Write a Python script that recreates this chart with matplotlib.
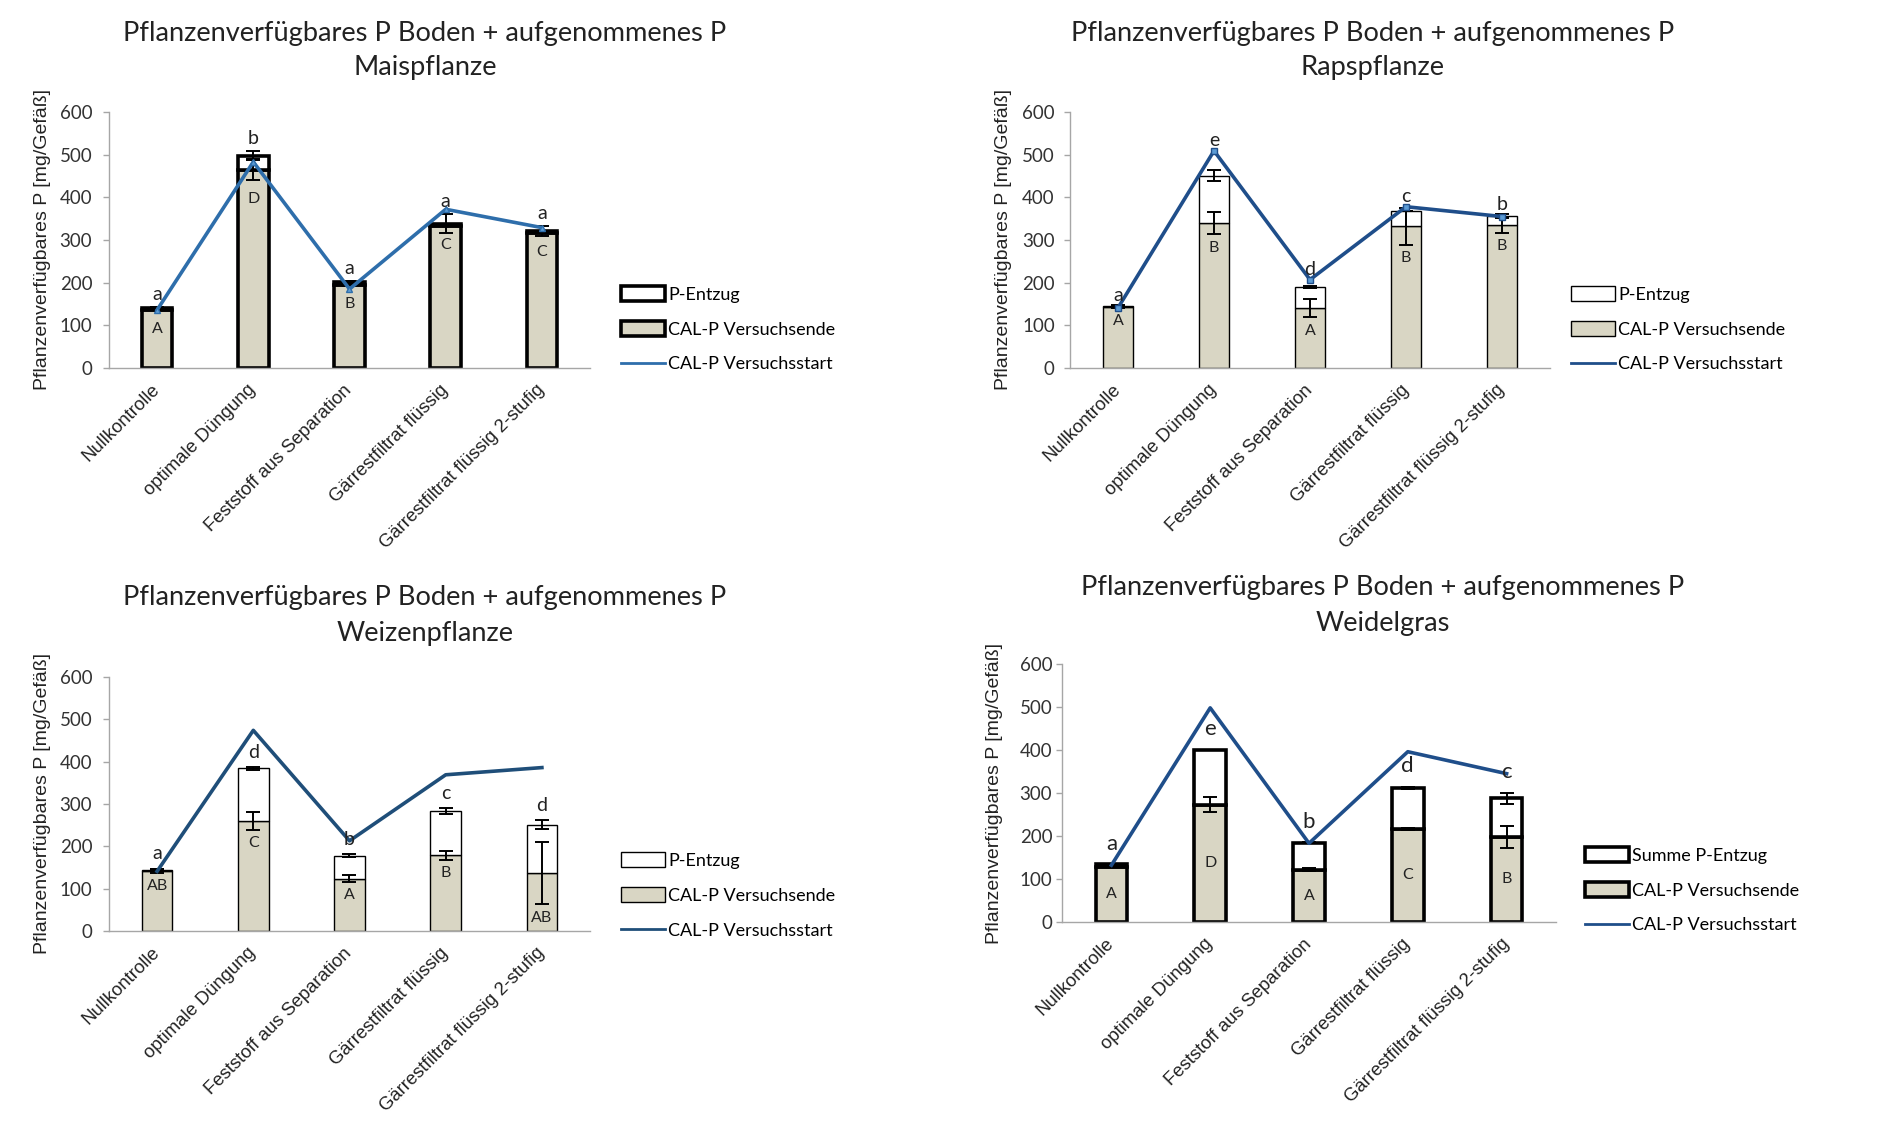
import matplotlib
matplotlib.use("Agg")
import matplotlib.pyplot as plt
from matplotlib.patches import Patch
from matplotlib.lines import Line2D
import numpy as np

categories = ["Nullkontrolle", "optimale Düngung", "Feststoff aus Separation",
              "Gärrestfiltrat flüssig", "Gärrestfiltrat flüssig 2-stufig"]
title_main = "Pflanzenverfügbares P Boden + aufgenommenes P"
ylabel = "Pflanzenverfügbares P [mg/Gefäß]"
yticks = [0, 100, 200, 300, 400, 500, 600]

# Maispflanze
mais_cal = [137, 465, 195, 332, 316]
mais_total = [141, 498, 201, 338, 321]
mais_err_total = [2, 11, 3, 22, 12]
mais_err_cal = [2, 25, 3, 0, 0]
mais_start = [136, 483, 185, 372, 329]
mais_low = ["a", "b", "a", "a", "a"]
mais_up = ["A", "D", "B", "C", "C"]

# Rapspflanze
raps_cal = [143, 339, 140, 332, 335]
raps_total = [145, 451, 190, 367, 356]
raps_err_total = [2, 12, 3, 0, 4]
raps_err_cal = [2, 26, 21, 43, 18]
raps_start = [141, 509, 207, 378, 355]
raps_low = ["a", "e", "d", "c", "b"]
raps_up = ["A", "B", "A", "B", "B"]

# Weizenpflanze
weiz_cal = [142, 260, 124, 179, 137]
weiz_total = [145, 384, 178, 283, 251]
weiz_err_total = [2, 3, 4, 7, 11]
weiz_err_cal = [4, 21, 8, 11, 74]
weiz_start = [141, 474, 213, 369, 386]
weiz_low = ["a", "d", "b", "c", "d"]
weiz_up = ["AB", "C", "A", "B", "AB"]

# Weidelgras
weid_cal = [129, 273, 122, 217, 198]
weid_total = [134, 400, 184, 312, 288]
weid_err_total = [0, 1, 1, 3, 13]
weid_err_cal = [0, 17, 3, 2, 25]
weid_start = [132, 498, 183, 396, 345]
weid_low = ["a", "e", "b", "d", "c"]
weid_up = ["A", "D", "A", "C", "B"]

W, H = 1890, 1130
fig = plt.figure(figsize=(W / 100, H / 100), dpi=100)
fig.patch.set_facecolor("white")

BEIGE = "#d9d6c4"
TFONT = "Lato"
XFONT = "Liberation Sans"

panels = [
    dict(sub="Maispflanze", cal=mais_cal, total=mais_total, et=mais_err_total, ec=mais_err_cal,
         start=mais_start, low=mais_low, up=mais_up, ax=(109, 590, 112, 368),
         title=(425, 33, 68), legend=(614, 279), lw=2.6, color="#2e6eab", marker="^",
         entz="P-Entzug", off_low=30, off_up=43, center_up=False, lowsize=14,
         use_line=False, ypad=8),
    dict(sub="Rapspflanze", cal=raps_cal, total=raps_total, et=raps_err_total, ec=raps_err_cal,
         start=raps_start, low=raps_low, up=raps_up, ax=(1070, 1550, 112, 368),
         title=(1373, 33, 68), legend=(1564, 279), lw=1.0, color="#1f4e8a", marker="s",
         entz="P-Entzug", off_low=24, off_up=32, center_up=False, lowsize=14,
         use_line=True, ypad=7),
    dict(sub="Weizenpflanze", cal=weiz_cal, total=weiz_total, et=weiz_err_total, ec=weiz_err_cal,
         start=weiz_start, low=weiz_low, up=weiz_up, ax=(109, 590, 677, 931),
         title=(425, 597, 633), legend=(614, 845), lw=1.0, color="#1f4e79", marker=None,
         entz="P-Entzug", off_low=35, off_up=32, center_up=False, lowsize=14,
         use_line=False, ypad=8),
    dict(sub="Weidelgras", cal=weid_cal, total=weid_total, et=weid_err_total, ec=weid_err_cal,
         start=weid_start, low=weid_low, up=weid_up, ax=(1062, 1556, 664, 922),
         title=(1383, 587, 623), legend=(1578, 840), lw=2.6, color="#1f4e8a", marker=None,
         entz="Summe P-Entzug", off_low=48, off_up=0, center_up=True, lowsize=16,
         use_line=False, ypad=3),
]

x = np.arange(len(categories))
bw = 0.32

for p in panels:
    l, r, t, b = p["ax"]
    ax = fig.add_axes([l / W, 1 - b / H, (r - l) / W, (b - t) / H])
    cal = np.array(p["cal"], float)
    total = np.array(p["total"], float)
    start = np.array(p["start"], float)
    entz = total - cal
    ax.bar(x, cal, bw, color=BEIGE, edgecolor="black", linewidth=p["lw"], zorder=2)
    ax.bar(x, entz, bw, bottom=cal, color="white", edgecolor="black", linewidth=p["lw"], zorder=2)
    ax.errorbar(x, total, yerr=p["et"], fmt="none", ecolor="black", elinewidth=1.4,
                capsize=5, capthick=1.4, zorder=3)
    ax.errorbar(x, cal, yerr=p["ec"], fmt="none", ecolor="black", elinewidth=1.4,
                capsize=5, capthick=1.4, zorder=3)
    if p["marker"]:
        ax.plot(x, start, color=p["color"], lw=2.6, marker=p["marker"], ms=5,
                mfc="#5b9bd5", mec=p["color"], zorder=4)
    else:
        ax.plot(x, start, color=p["color"], lw=2.6, zorder=4)

    et = np.array(p["et"], float)
    ec = np.array(p["ec"], float)
    for i in range(len(x)):
        top = max(total[i] + et[i], cal[i] + ec[i])
        if p["use_line"]:
            top = max(top, start[i])
        ax.text(x[i], top + p["off_low"], p["low"][i], ha="center", va="center",
                fontsize=p["lowsize"], family=TFONT, color="#222222", zorder=5)
        if p["center_up"]:
            yup = cal[i] / 2
        else:
            yup = cal[i] - ec[i] - p["off_up"]
        ax.text(x[i], yup, p["up"][i], ha="center", va="center", fontsize=11.5,
                family=TFONT, color="#222222", zorder=5)

    ax.set_xlim(-0.5, len(x) - 0.5)
    ax.set_ylim(0, 600)
    ax.set_yticks(yticks)
    ax.set_yticklabels([str(v) for v in yticks], family=TFONT, fontsize=13.5, color="#333333")
    ax.set_xticks(x)
    ax.set_xticklabels(categories, rotation=45, ha="right", va="center", rotation_mode="anchor",
                       family=XFONT, fontsize=13.3, color="#222222")
    ax.tick_params(axis="x", length=0, pad=14)
    ax.tick_params(axis="y", length=4, width=1, color="#a6a6a6", pad=p["ypad"])
    for s in ["top", "right"]:
        ax.spines[s].set_visible(False)
    for s in ["left", "bottom"]:
        ax.spines[s].set_color("#a6a6a6")
        ax.spines[s].set_linewidth(1.0)
    ax.set_ylabel(ylabel, family=XFONT, fontsize=14, color="#222222")
    ax.yaxis.set_label_coords(-0.12, 0.5)

    tx, ty1, ty2 = p["title"]
    fig.text(tx / W, 1 - ty1 / H, title_main, ha="center", va="center",
             family=TFONT, fontsize=19.6, color="#222222")
    fig.text(tx / W, 1 - ty2 / H, p["sub"], ha="center", va="center",
             family=TFONT, fontsize=19.6, color="#222222")

    handles = [
        Patch(facecolor="white", edgecolor="black", linewidth=p["lw"]),
        Patch(facecolor=BEIGE, edgecolor="black", linewidth=p["lw"]),
        Line2D([0], [0], color=p["color"], lw=2),
    ]
    labels = [p["entz"], "CAL-P Versuchsende", "CAL-P Versuchsstart"]
    lx, ly = p["legend"]
    fig.legend(handles, labels, loc="upper left", bbox_to_anchor=(lx / W, 1 - ly / H),
               frameon=False, prop={"family": TFONT, "size": 13}, labelspacing=1.0,
               handlelength=2.4, handleheight=0.9, handletextpad=0.2, borderaxespad=0)

fig.savefig("out.png", dpi=100, facecolor="white")
